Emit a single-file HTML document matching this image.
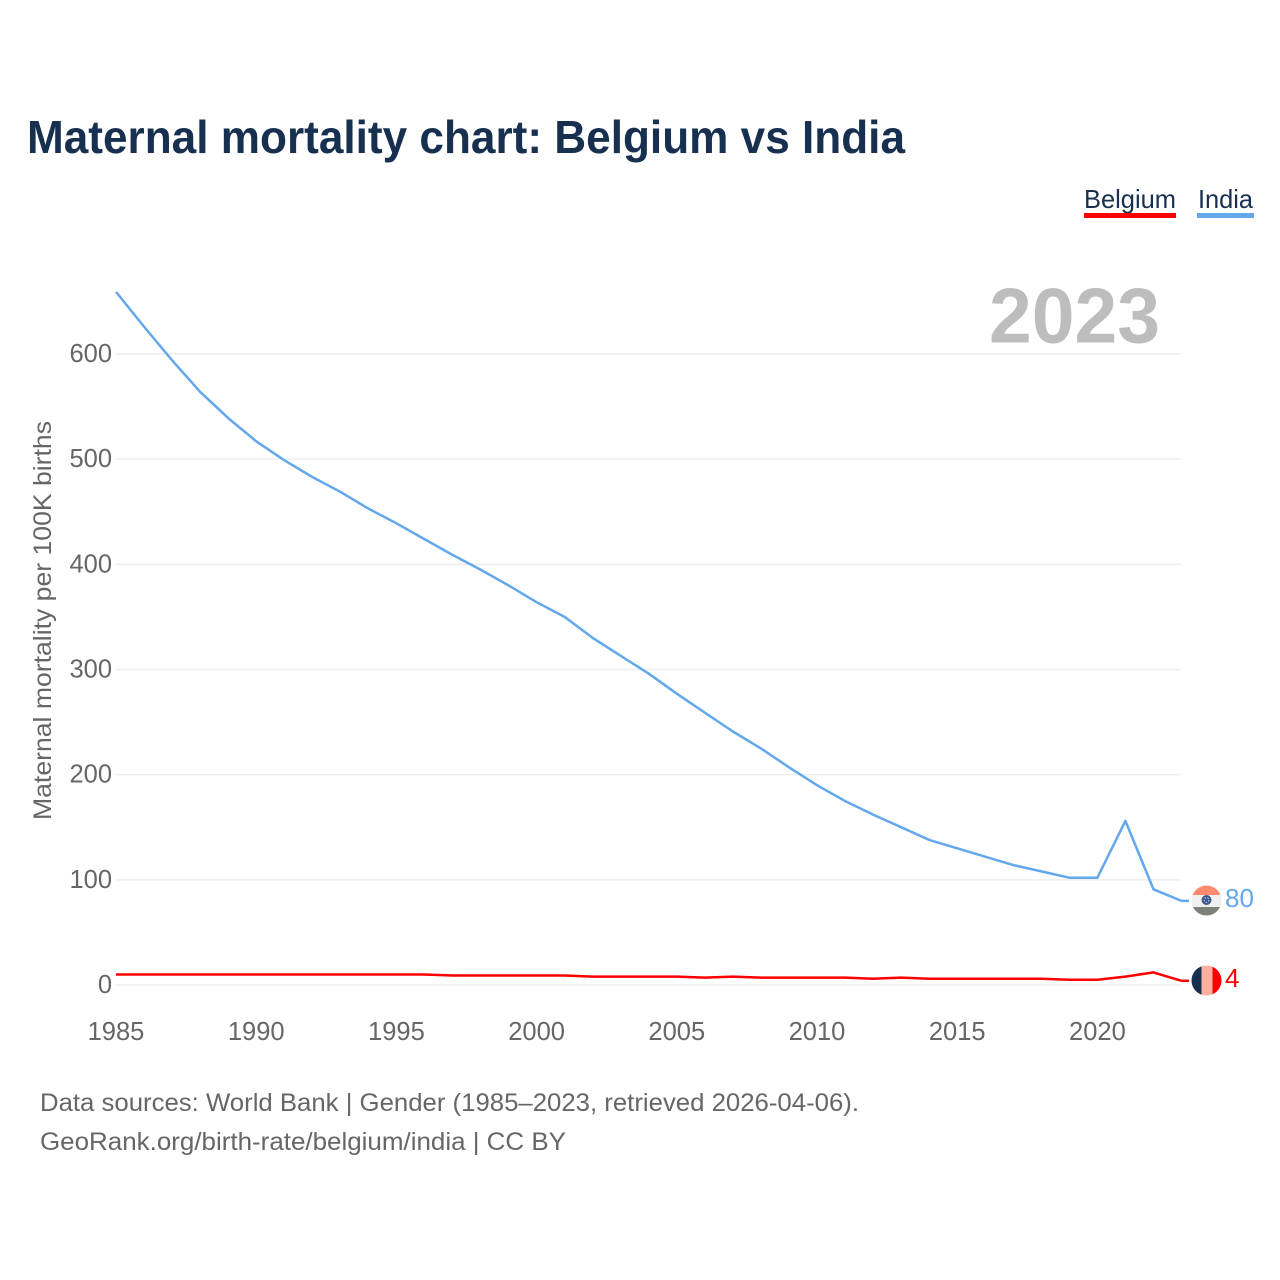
<!DOCTYPE html>
<html lang="en">
<head>
<meta charset="utf-8">
<title>Maternal mortality chart: Belgium vs India</title>
<style>
html,body{margin:0;padding:0;background:#fff;width:1280px;height:1280px;overflow:hidden}
svg{display:block}
text{font-family:"Liberation Sans",sans-serif}
</style>
</head>
<body>
<svg id="chart" width="1280" height="1280" viewBox="0 0 1280 1280" xmlns="http://www.w3.org/2000/svg">
  <defs>
    <clipPath id="flag-clip-india"><circle cx="1206.5" cy="900.5" r="15"/></clipPath>
    <clipPath id="flag-clip-belgium"><circle cx="1206.5" cy="980.5" r="15"/></clipPath>
  </defs>
  <text x="27" y="153" font-size="46" font-weight="700" fill="#17304f" textLength="878" lengthAdjust="spacingAndGlyphs">Maternal mortality chart: Belgium vs India</text>

  <g>
    <text x="1084" y="208" font-size="26" fill="#17304f" textLength="92" lengthAdjust="spacingAndGlyphs">Belgium</text>
    <rect x="1084" y="213" width="92" height="5" fill="#ff0000"/>
  </g>
  <g>
    <text x="1198" y="208" font-size="26" fill="#17304f" textLength="55" lengthAdjust="spacingAndGlyphs">India</text>
    <rect x="1197" y="213" width="57" height="5" fill="#63a8ec"/>
  </g>

  <text x="989" y="342.5" font-size="78" font-weight="700" fill="#bdbdbd" textLength="171" lengthAdjust="spacingAndGlyphs">2023</text>

  <g id="grid"></g>
  <g id="y-ticks"></g>
  <g id="x-ticks"></g>

  <text transform="translate(51,820) rotate(-90)" font-size="25" fill="#666666" textLength="399" lengthAdjust="spacingAndGlyphs">Maternal mortality per 100K births</text>

  <polyline id="line-india" fill="none" stroke="#63a8ec" stroke-width="2.5" stroke-linejoin="round"/>
  <polyline id="line-belgium" fill="none" stroke="#ff0000" stroke-width="2.5" stroke-linejoin="round"/>
  <line id="connector-india" x2="1189" stroke="#63a8ec" stroke-width="2.5"/>
  <line id="connector-belgium" x2="1189" stroke="#ff0000" stroke-width="2.5"/>

  <g clip-path="url(#flag-clip-india)">
    <rect x="1191" y="885" width="31" height="10" fill="#ff8a70"/>
    <rect x="1191" y="895" width="31" height="12" fill="#f0f0f0"/>
    <rect x="1191" y="907" width="31" height="10" fill="#7c8278"/>
    <circle cx="1206.5" cy="900" r="5" fill="#3d5a8c"/>
    <circle cx="1206.5" cy="900" r="2.4" fill="none" stroke="#c4cfe0" stroke-width="1" stroke-dasharray="1.5 1.5"/>
  </g>
  <text id="value-india" x="1225" y="907" font-size="26" fill="#63a8ec">80</text>

  <g clip-path="url(#flag-clip-belgium)">
    <rect x="1191" y="965" width="10.5" height="31" fill="#17304f"/>
    <rect x="1201.5" y="965" width="11" height="31" fill="#ffb09f"/>
    <rect x="1212.5" y="965" width="10" height="31" fill="#ff0000"/>
  </g>
  <text id="value-belgium" x="1225" y="987" font-size="26" fill="#ff0000">4</text>

  <text x="40" y="1111" font-size="25" fill="#666666" textLength="819" lengthAdjust="spacingAndGlyphs">Data sources: World Bank | Gender (1985–2023, retrieved 2026-04-06).</text>
  <text x="40" y="1150" font-size="25" fill="#666666" textLength="526" lengthAdjust="spacingAndGlyphs">GeoRank.org/birth-rate/belgium/india | CC BY</text>
</svg>
<script>
const years = [1985,1986,1987,1988,1989,1990,1991,1992,1993,1994,1995,1996,1997,1998,1999,2000,2001,2002,2003,2004,2005,2006,2007,2008,2009,2010,2011,2012,2013,2014,2015,2016,2017,2018,2019,2020,2021,2022,2023];
const indiaValues = [659,626,594,564,539,517,499,483,469,453,439,424,409,395,380,364,350,330,313,296,277,259,241,225,207,190,175,162,150,138,130,122,114,108,102,102,156,91,80];
const belgiumValues = [10,10,10,10,10,10,10,10,10,10,10,10,9,9,9,9,9,8,8,8,8,7,8,7,7,7,7,6,7,6,6,6,6,6,5,5,8,12,4];
const yTickValues = [0,100,200,300,400,500,600];
const xTickValues = [1985,1990,1995,2000,2005,2010,2015,2020];

const NS = 'http://www.w3.org/2000/svg';
const xScale = function (year) { return 116 + (year - 1985) * 28.04; };
const yScale = function (value) { return 985 - value * 1.0517; };
const pointsFor = function (values) {
  return values.map(function (v, i) { return xScale(years[i]).toFixed(1) + ',' + yScale(v).toFixed(1); }).join(' ');
};

const grid = document.getElementById('grid');
const yTicks = document.getElementById('y-ticks');
const xTicks = document.getElementById('x-ticks');

yTickValues.forEach(function (v) {
  const line = document.createElementNS(NS, 'line');
  
  
  line.setAttribute('x1', 116);
  line.setAttribute('x2', 1181);
  line.setAttribute('y1', yScale(v));
  line.setAttribute('y2', yScale(v));
  line.setAttribute('stroke', '#eeeeee');
  line.setAttribute('stroke-width', 1.5);
  grid.appendChild(line);

  const label = document.createElementNS(NS, 'text');
  
  
  label.setAttribute('x', 112);
  label.setAttribute('y', yScale(v) + 8);
  label.setAttribute('text-anchor', 'end');
  label.setAttribute('font-size', 25.5);
  label.setAttribute('fill', '#666666');
  label.textContent = v;
  yTicks.appendChild(label);
});

xTickValues.forEach(function (year) {
  const label = document.createElementNS(NS, 'text');
  
  
  label.setAttribute('x', xScale(year));
  label.setAttribute('y', 1040);
  label.setAttribute('text-anchor', 'middle');
  label.setAttribute('font-size', 25.5);
  label.setAttribute('fill', '#666666');
  label.textContent = year;
  xTicks.appendChild(label);
});

document.getElementById('line-india').setAttribute('points', pointsFor(indiaValues));
document.getElementById('line-belgium').setAttribute('points', pointsFor(belgiumValues));

const connect = function (id, values) {
  const el = document.getElementById(id);
  const last = values[values.length - 1];
  el.setAttribute('x1', xScale(years[years.length - 1]));
  el.setAttribute('y1', yScale(last));
  el.setAttribute('y2', yScale(last));
};
connect('connector-india', indiaValues);
connect('connector-belgium', belgiumValues);

document.getElementById('value-india').textContent = indiaValues[indiaValues.length - 1];
document.getElementById('value-belgium').textContent = belgiumValues[belgiumValues.length - 1];
</script>
</body>
</html>
